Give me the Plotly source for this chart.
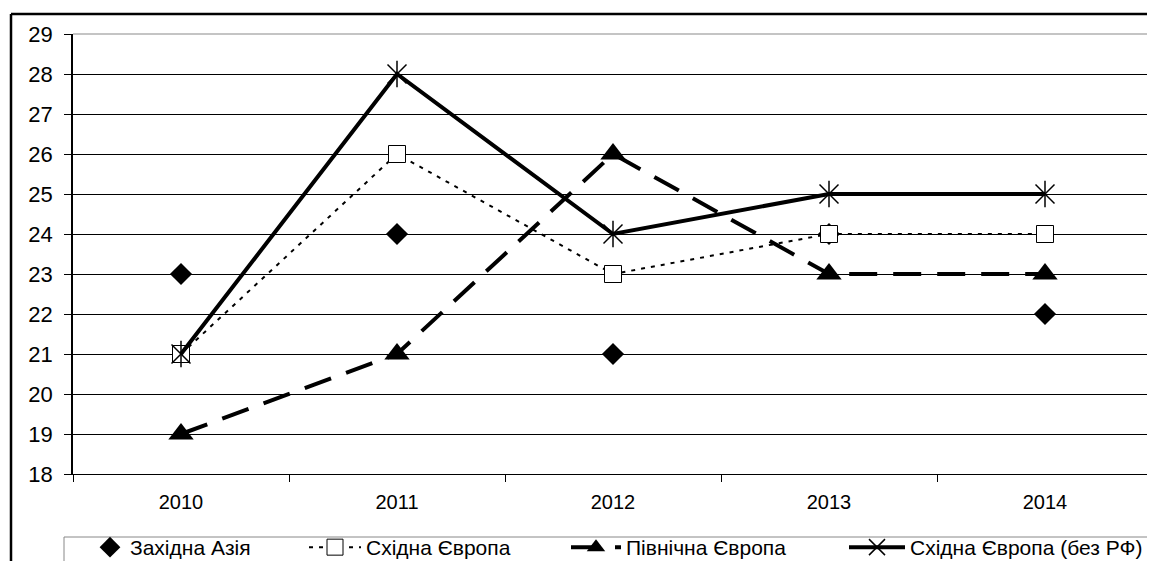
import plotly.graph_objects as go

years = ["2010", "2011", "2012", "2013", "2014"]
west_asia = [23, 24, 21, 24, 22]
east_europe = [21, 26, 23, 24, 24]
north_europe = [19, 21, 26, 23, 23]
east_europe_no_rf = [21, 28, 24, 25, 25]
y_ticks = list(range(18, 30))

names = ["Західна Азія", "Східна Європа", "Північна Європа", "Східна Європа (без РФ)"]

# page has an 8px body margin; work in page pixels and convert
OFF = 8
W, H = 1155 - OFF, 561 - OFF
L, R, T, B = 73 - OFF, 1153 - OFF, 34 - OFF, 474 - OFF

def px_x(p):
    return (p - OFF - L) / (R - L)

def px_y(p):
    return (B - (p - OFF)) / (B - T)

font = dict(family="Liberation Sans, Arial, sans-serif", size=21, color="black")

fig = go.Figure()

fig.add_trace(go.Scatter(
    x=years, y=west_asia, name=names[0], mode="markers", legend="legend",
    marker=dict(symbol="diamond", size=17, color="black", line=dict(width=0)),
))
fig.add_trace(go.Scatter(
    x=years, y=east_europe, name=names[1], mode="lines+markers", legend="legend2",
    line=dict(color="black", width=2, dash="4px,6px"),
    marker=dict(symbol="square", size=17, color="white", line=dict(color="black", width=1)),
))
fig.add_trace(go.Scatter(
    x=years, y=north_europe, name=names[2], mode="lines+markers", legend="legend3",
    line=dict(color="black", width=4, dash="28px,16px"),
    marker=dict(symbol="triangle-up", size=22, color="black", line=dict(width=0)),
))
fig.add_trace(go.Scatter(
    x=years, y=east_europe_no_rf, name=names[3], mode="lines+markers", legend="legend4",
    line=dict(color="black", width=4),
    marker=dict(symbol="x-thin-open", size=19, color="black", line=dict(color="black", width=1.5)),
))
fig.add_trace(go.Scatter(
    x=years, y=east_europe_no_rf, name=names[3], mode="markers", showlegend=False,
    marker=dict(symbol="line-ns-open", size=19, color="black", line=dict(color="black", width=1.5)),
))

def leg(xpage, iw):
    return dict(orientation="h", x=px_x(xpage), y=px_y(527), xanchor="left", yanchor="top",
                borderwidth=0, bgcolor="rgba(0,0,0,0)", font=font, itemwidth=iw)

fig.update_layout(
    width=W, height=H,
    margin=dict(l=L, r=W - R, t=T, b=H - B, pad=0, autoexpand=False),
    paper_bgcolor="white", plot_bgcolor="white",
    font=font,
    showlegend=True,
    legend=leg(90, 30),
    legend2=leg(304, 52),
    legend3=leg(566, 50),
    legend4=leg(844, 56),
    xaxis=dict(
        type="category", range=[-0.5, 4.5], showgrid=False,
        showline=True, linecolor="black", linewidth=1,
        ticks="outside", tickson="boundaries", ticklen=7, tickcolor="black",
        ticklabelstandoff=10, zeroline=False, tickfont=dict(size=20),
    ),
    yaxis=dict(
        range=[18, 29], tickvals=y_ticks, showgrid=True, gridcolor="black", gridwidth=1,
        showline=True, linecolor="black", linewidth=1.5,
        ticks="outside", ticklen=7, tickcolor="black",
        ticklabelstandoff=7, zeroline=False, tickfont=dict(size=22),
    ),
    shapes=[
        dict(type="line", xref="paper", yref="paper", x0=0, x1=1, y0=1, y1=1,
             line=dict(color="#b0b0b0", width=1.5), layer="above"),
        # outer frame
        dict(type="line", xref="paper", yref="paper", x0=px_x(11), x1=px_x(1170),
             y0=px_y(14), y1=px_y(14), line=dict(color="black", width=2.5)),
        dict(type="line", xref="paper", yref="paper", x0=px_x(11), x1=px_x(11),
             y0=px_y(14), y1=px_y(580), line=dict(color="black", width=2.5)),
        # legend box
        dict(type="rect", xref="paper", yref="paper", x0=px_x(64), x1=px_x(1149),
             y0=px_y(580), y1=px_y(537), line=dict(color="#888888", width=1)),
    ],
)

fig.write_html("out.html")
